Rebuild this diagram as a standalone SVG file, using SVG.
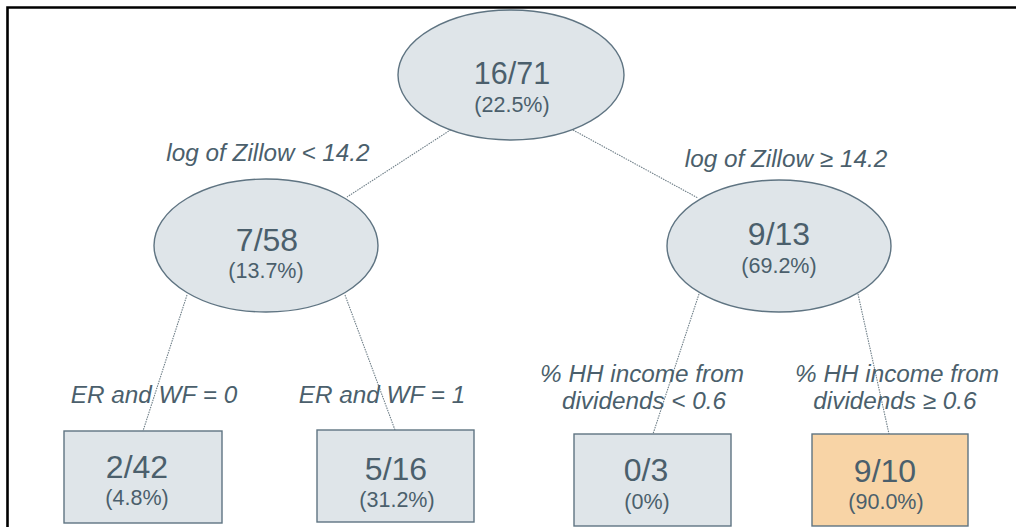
<svg xmlns="http://www.w3.org/2000/svg" width="1016" height="527" viewBox="0 0 1016 527">
<style>
.n{fill:#dfe5e9;stroke:#5f7482;stroke-width:1.4}
.o{fill:#f8d4a6;stroke:#5f7482;stroke-width:1.4}
.big{font-family:"Liberation Sans",Arial,sans-serif;font-size:32px;fill:#4b5f6c;text-anchor:middle}
.pct{font-family:"Liberation Sans",Arial,sans-serif;font-size:21.5px;fill:#4b5f6c;text-anchor:middle}
.lab{font-family:"Liberation Sans",Arial,sans-serif;font-size:24.3px;font-style:italic;fill:#4b5f6c;text-anchor:middle}
.c{stroke:#6f7f88;stroke-width:1.1;stroke-dasharray:1.5 1;fill:none}
</style>
<rect width="1016" height="527" fill="#fff"/>
<path d="M7.5 527 V7.5 H1016" fill="none" stroke="#000" stroke-width="2.6"/>
<g id="connectors">
<line class="c" x1="455" y1="127" x2="347" y2="197"/>
<line class="c" x1="573" y1="130" x2="698" y2="198"/>
<line class="c" x1="187" y1="295" x2="143" y2="431"/>
<line class="c" x1="345" y1="295" x2="395" y2="430"/>
<line class="c" x1="699" y1="294" x2="653" y2="434"/>
<line class="c" x1="858" y1="294" x2="889" y2="434"/>
</g>
<g id="labels">
<text class="lab" x="268" y="161">log of Zillow &lt; 14.2</text>
<text class="lab" x="786" y="167">log of Zillow ≥ 14.2</text>
<text class="lab" x="154" y="403">ER and WF = 0</text>
<text class="lab" x="382" y="403">ER and WF = 1</text>
<text class="lab" x="642" y="382">% HH income from</text>
<text class="lab" x="644" y="409">dividends &lt; 0.6</text>
<text class="lab" x="897" y="382">% HH income from</text>
<text class="lab" x="895" y="409">dividends ≥ 0.6</text>
</g>
<g id="root">
<ellipse class="n" cx="511" cy="75" rx="113" ry="65"/>
<text class="big" x="512" y="84" style="font-size:30.5px">16/71</text>
<text class="pct" x="512" y="112">(22.5%)</text>
</g>
<g id="left">
<ellipse class="n" cx="266" cy="245.5" rx="112" ry="66.5"/>
<text class="big" x="267" y="251">7/58</text>
<text class="pct" x="266" y="278">(13.7%)</text>
</g>
<g id="right">
<ellipse class="n" cx="779" cy="246" rx="112" ry="66"/>
<text class="big" x="779" y="245">9/13</text>
<text class="pct" x="779" y="273">(69.2%)</text>
</g>
<g id="leaf1">
<rect class="n" x="64" y="431" width="158" height="92"/>
<text class="big" x="137" y="478">2/42</text>
<text class="pct" x="137" y="505">(4.8%)</text>
</g>
<g id="leaf2">
<rect class="n" x="317" y="430" width="157" height="92"/>
<text class="big" x="396" y="480">5/16</text>
<text class="pct" x="397" y="507">(31.2%)</text>
</g>
<g id="leaf3">
<rect class="n" x="574" y="434" width="157" height="92"/>
<text class="big" x="646" y="481">0/3</text>
<text class="pct" x="647" y="509">(0%)</text>
</g>
<g id="leaf4">
<rect class="o" x="812" y="434" width="156" height="92"/>
<text class="big" x="885" y="482">9/10</text>
<text class="pct" x="886" y="509">(90.0%)</text>
</g>
</svg>
